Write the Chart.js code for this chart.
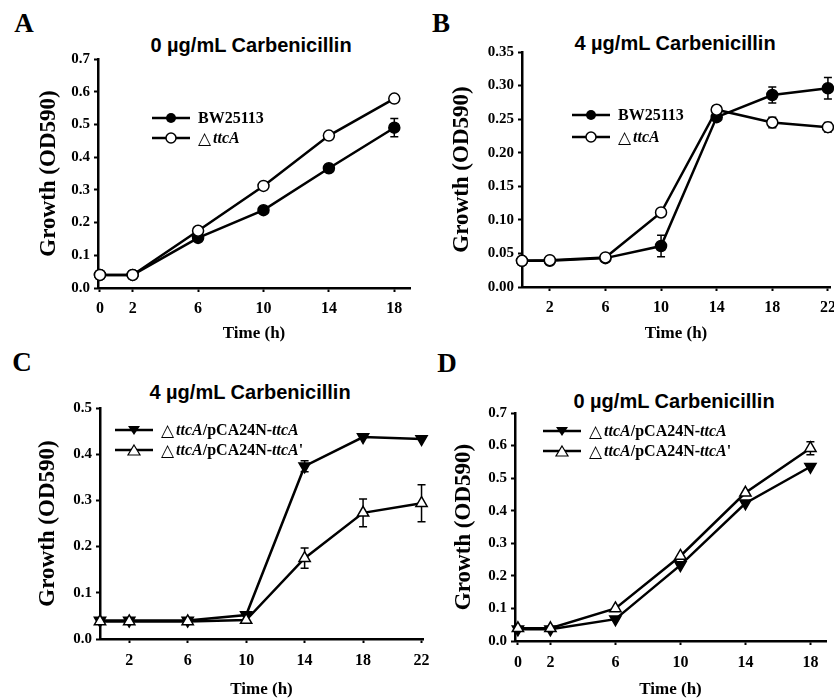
<!DOCTYPE html>
<html>
<head>
<meta charset="utf-8">
<script src="https://cdn.jsdelivr.net/npm/chart.js@4.4.1/dist/chart.umd.min.js"></script>
<style>
body{margin:0;width:834px;height:700px;overflow:hidden;background:#fff;position:relative}
canvas{position:absolute}
.lbl{position:absolute;font-family:"Liberation Serif","Times New Roman",serif;font-weight:bold;font-size:27px;transform:translate(-50%,-50%)}
.ttl{position:absolute;font-family:"Liberation Sans",Arial,sans-serif;font-weight:bold;font-size:20px;transform:translate(-50%,-50%);white-space:nowrap}
.leg{position:absolute;font-family:"Liberation Serif","Times New Roman",serif;font-weight:bold;font-size:16px;white-space:nowrap}
.leg div{display:flex;align-items:center}
.leg svg{margin-right:8px}
.tri{font-family:"DejaVu Sans",sans-serif;font-weight:normal;font-size:17px;margin-right:2px}
</style>
</head>
<body>
<div class="lbl" style="left:24px;top:23px">A</div>
<div class="lbl" style="left:441px;top:23px">B</div>
<div class="lbl" style="left:22px;top:362px">C</div>
<div class="lbl" style="left:447px;top:363px">D</div>

<div class="ttl" style="left:251px;top:45px">0 µg/mL Carbenicillin</div>
<div class="ttl" style="left:675px;top:43px">4 µg/mL Carbenicillin</div>
<div class="ttl" style="left:250px;top:392px">4 µg/mL Carbenicillin</div>
<div class="ttl" style="left:674px;top:401px">0 µg/mL Carbenicillin</div>

<canvas id="cA"></canvas>
<canvas id="cB"></canvas>
<canvas id="cC"></canvas>
<canvas id="cD"></canvas>

<div class="leg" style="left:152px;top:108px">
  <div style="height:20px"><svg width="38" height="14"><line x1="0" y1="7" x2="38" y2="7" stroke="#000" stroke-width="2.5"/><circle cx="19" cy="7" r="5" fill="#000"/></svg>BW25113</div>
  <div style="height:20px"><svg width="38" height="14"><line x1="0" y1="7" x2="38" y2="7" stroke="#000" stroke-width="2.5"/><circle cx="19" cy="7" r="5" fill="#fff" stroke="#000" stroke-width="1.5"/></svg><span class="tri">△</span><i>ttcA</i></div>
</div>
<div class="leg" style="left:572px;top:104px">
  <div style="height:22px"><svg width="38" height="14"><line x1="0" y1="7" x2="38" y2="7" stroke="#000" stroke-width="2.5"/><circle cx="19" cy="7" r="5" fill="#000"/></svg>BW25113</div>
  <div style="height:22px"><svg width="38" height="14"><line x1="0" y1="7" x2="38" y2="7" stroke="#000" stroke-width="2.5"/><circle cx="19" cy="7" r="5" fill="#fff" stroke="#000" stroke-width="1.5"/></svg><span class="tri">△</span><i>ttcA</i></div>
</div>
<div class="leg" style="left:115px;top:420px">
  <div style="height:20px"><svg width="38" height="14"><line x1="0" y1="7" x2="38" y2="7" stroke="#000" stroke-width="2.5"/><polygon points="13,3 25,3 19,12" fill="#000"/></svg><span class="tri">△</span><i>ttcA</i>/pCA24N-<i>ttcA</i></div>
  <div style="height:20px"><svg width="38" height="14"><line x1="0" y1="7" x2="38" y2="7" stroke="#000" stroke-width="2.5"/><polygon points="19,2 25,12 13,12" fill="#fff" stroke="#000" stroke-width="1.2"/></svg><span class="tri">△</span><i>ttcA</i>/pCA24N-<i>ttcA</i>'</div>
</div>
<div class="leg" style="left:543px;top:421px">
  <div style="height:20px"><svg width="38" height="14"><line x1="0" y1="7" x2="38" y2="7" stroke="#000" stroke-width="2.5"/><polygon points="13,3 25,3 19,12" fill="#000"/></svg><span class="tri">△</span><i>ttcA</i>/pCA24N-<i>ttcA</i></div>
  <div style="height:20px"><svg width="38" height="14"><line x1="0" y1="7" x2="38" y2="7" stroke="#000" stroke-width="2.5"/><polygon points="19,2 25,12 13,12" fill="#fff" stroke="#000" stroke-width="1.2"/></svg><span class="tri">△</span><i>ttcA</i>/pCA24N-<i>ttcA</i>'</div>
</div>

<script>
// panel A: 0 ug/mL, wild type vs deletion
var timeA = [0, 2, 6, 10, 14, 18];
var bwA = [0.04, 0.04, 0.153, 0.238, 0.366, 0.49];
var bwErrA = [0, 0, 0, 0, 0, 0.028];
var ttcA_A = [0.04, 0.04, 0.175, 0.312, 0.466, 0.579];
var ttcErrA = [0, 0, 0, 0, 0, 0];

// panel B: 4 ug/mL
var timeB = [0, 2, 6, 10, 14, 18, 22];
var bwB = [0.039, 0.039, 0.043, 0.061, 0.253, 0.286, 0.296];
var bwErrB = [0, 0, 0, 0.016, 0, 0.012, 0.016];
var ttcA_B = [0.039, 0.040, 0.044, 0.111, 0.264, 0.245, 0.238];
var ttcErrB = [0, 0, 0, 0, 0.006, 0.008, 0.007];

// panel C: complementation, 4 ug/mL
var timeC = [0, 2, 6, 10, 14, 18, 22];
var compC = [0.04, 0.04, 0.04, 0.052, 0.374, 0.437, 0.433];
var compErrC = [0, 0, 0, 0, 0.012, 0, 0];
var mutC = [0.038, 0.038, 0.038, 0.041, 0.175, 0.273, 0.294];
var mutErrC = [0, 0, 0, 0, 0.022, 0.03, 0.04];

// panel D: complementation, 0 ug/mL
var timeD = [0, 2, 6, 10, 14, 18];
var compD = [0.036, 0.036, 0.067, 0.233, 0.423, 0.535];
var compErrD = [0, 0, 0, 0, 0, 0];
var mutD = [0.039, 0.039, 0.100, 0.261, 0.455, 0.592];
var mutErrD = [0, 0, 0, 0, 0, 0.02];

var ticksA = [0, 2, 6, 10, 14, 18];
var ticksB = [2, 6, 10, 14, 18, 22];

var serif = '"Liberation Serif", "Times New Roman", serif';

function pts(t, v) {
	return t.map(function(x, i) { return {x: x, y: v[i]}; });
}

var errorBars = {
	id: 'errorBars',
	beforeDatasetsDraw: function(chart) {
		var ctx = chart.ctx, xs = chart.scales.x, ys = chart.scales.y;
		chart.data.datasets.forEach(function(ds) {
			if (!ds.err) return;
			ds.data.forEach(function(p, i) {
				var e = ds.err[i];
				if (!e) return;
				var x = xs.getPixelForValue(p.x);
				var y1 = ys.getPixelForValue(p.y + e), y2 = ys.getPixelForValue(p.y - e);
				ctx.save();
				ctx.strokeStyle = '#000';
				ctx.lineWidth = 1.5;
				ctx.beginPath();
				ctx.moveTo(x, y1); ctx.lineTo(x, y2);
				ctx.moveTo(x - 4, y1); ctx.lineTo(x + 4, y1);
				ctx.moveTo(x - 4, y2); ctx.lineTo(x + 4, y2);
				ctx.stroke();
				ctx.restore();
			});
		});
	}
};

function series(data, err, style, open, order) {
	return {
		data: data,
		err: err,
		borderColor: '#000',
		borderWidth: 2.5,
		tension: 0,
		clip: false,
		order: order,
		pointStyle: style,
		rotation: (style == 'triangle' && !open) ? 180 : 0,
		pointRadius: style == 'triangle' ? 6.5 : 5.5,
		pointBorderWidth: 1.5,
		pointBorderColor: '#000',
		pointBackgroundColor: open ? '#fff' : '#000'
	};
}

function panel(id, box, area, xr, xt, yr, ds) {
	var c = document.getElementById(id);
	c.width = box.w; c.height = box.h;
	c.style.left = box.x + 'px'; c.style.top = box.y + 'px';
	c.style.width = box.w + 'px'; c.style.height = box.h + 'px';
	return new Chart(c, {
		type: 'line',
		data: {datasets: ds},
		plugins: [errorBars],
		options: {
			responsive: false,
			animation: false,
			layout: {padding: {top: area.t, right: box.w - area.r, left: 0, bottom: 0}},
			plugins: {legend: {display: false}, tooltip: {enabled: false}},
			scales: {
				x: {
					type: 'linear', min: xr[0], max: xr[1],
					afterBuildTicks: function(s) { s.ticks = xt.map(function(v) { return {value: v}; }); },
					afterFit: function(s) { s.height = box.h - area.b; },
					ticks: {autoSkip: false, maxRotation: 0, padding: area.xp, color: '#000',
						font: {family: serif, weight: 'bold', size: 16},
						callback: function(v) { return String(v); }},
					grid: {display: true, drawOnChartArea: false, drawTicks: true, tickLength: 4, tickWidth: 2, color: '#000'},
					border: {display: true, color: '#000', width: 2.5},
					title: {display: true, text: 'Time (h)', color: '#000', padding: {top: 0, bottom: area.tp},
						font: {family: serif, weight: 'bold', size: 17}}
				},
				y: {
					min: 0, max: yr[0],
					afterFit: function(s) { s.width = area.l; },
					ticks: {stepSize: yr[1], padding: 4, color: '#000',
						font: {family: serif, weight: 'bold', size: 15},
						callback: function(v) { return v.toFixed(yr[2]); }},
					grid: {display: true, drawOnChartArea: false, drawTicks: true, tickLength: 4, tickWidth: 2, color: '#000'},
					border: {display: true, color: '#000', width: 2.5},
					title: {display: true, text: 'Growth (OD590)', color: '#000', padding: {top: area.yp, bottom: 0},
						font: {family: serif, weight: 'bold', size: 23}}
				}
			}
		}
	});
}

panel('cA', {x: 0, y: 0, w: 417, h: 350}, {l: 98, t: 59, r: 416, b: 288, xp: 7, tp: 6, yp: 35},
	[-0.12, 18.96], ticksA, [0.7, 0.1, 1], [
		series(pts(timeA, bwA), bwErrA, 'circle', false, 1),
		series(pts(timeA, ttcA_A), ttcErrA, 'circle', true, 0)
	]);

panel('cB', {x: 417, y: 0, w: 430, h: 350}, {l: 105, t: 52, r: 413, b: 287, xp: 7, tp: 6, yp: 31},
	[0, 22.15], ticksB, [0.35, 0.05, 2], [
		series(pts(timeB, bwB), bwErrB, 'circle', false, 1),
		series(pts(timeB, ttcA_B), ttcErrB, 'circle', true, 0)
	]);

panel('cC', {x: 0, y: 340, w: 440, h: 360}, {l: 100, t: 68, r: 423, b: 299, xp: 8, tp: 0, yp: 34},
	[0, 22.1], ticksB, [0.5, 0.1, 1], [
		series(pts(timeC, compC), compErrC, 'triangle', false, 1),
		series(pts(timeC, mutC), mutErrC, 'triangle', true, 0)
	]);

panel('cD', {x: 417, y: 340, w: 417, h: 360}, {l: 98, t: 73, r: 417, b: 301, xp: 8, tp: 0, yp: 33},
	[-0.18, 18.96], ticksA, [0.7, 0.1, 1], [
		series(pts(timeD, compD), compErrD, 'triangle', false, 1),
		series(pts(timeD, mutD), mutErrD, 'triangle', true, 0)
	]);
</script>
</body>
</html>
